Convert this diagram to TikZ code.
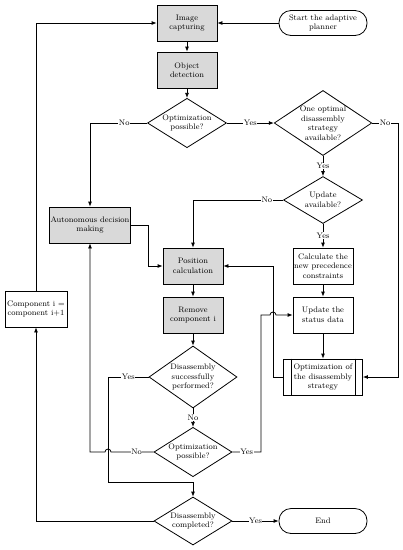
\documentclass[tikz,border=0pt]{standalone}
\usetikzlibrary{arrows.meta,shapes.geometric}

\tikzset{
  proc/.style={draw, fill=gray!30, minimum width=60pt, minimum height=36pt, align=center, inner sep=1pt},
  box/.style={draw, fill=white, minimum width=60pt, minimum height=36pt, align=center, inner sep=1pt},
  cond/.style={draw, diamond, fill=white, aspect=1.5, inner sep=0pt, align=center},
  term/.style={draw, rounded corners=12pt, minimum width=88pt, minimum height=25pt, align=center},
  yn/.style={fill=white, inner sep=.5pt},
}

\begin{document}
\begin{tikzpicture}[x=1pt, y=-1pt, line width=.8pt, font=\fontsize{8}{9.5}\selectfont, >={Latex[length=5pt,width=4pt]}]

\useasboundingbox (0,0) rectangle (403,550);

\node [proc] (img) at (187,23) {Image\\capturing};
\node [term] (start) at (323,23) {Start the adaptive\\planner};
\node [proc] (obj) at (187,70) {Object\\detection};
\node [cond, minimum width=79pt, minimum height=47pt] (opt1) at (187,123) {Optimization\\possible?};
\node [cond, minimum width=87pt, minimum height=63pt] (strat) at (323,123) {One optimal\\disassembly\\strategy\\available?};
\node [cond, minimum width=79pt, minimum height=47pt] (upd) at (323,200) {Update\\available?};
\node [proc, minimum width=79pt] (auto) at (90,225) {Autonomous decision\\making};
\node [proc] (pos) at (193,266) {Position\\calculation};
\node [box] (calc) at (323,266) {Calculate the\\new precedence\\constraints};
\node [proc] (rem) at (193,315) {Remove\\component i};
\node [box] (status) at (323,315) {Update the\\status data};
\node [cond, minimum width=88pt, minimum height=62pt] (succ) at (193,377) {Disassembly\\successfully\\performed?};
\node [box, minimum width=79pt] (optbox) at (323,377) {Optimization of\\the disassembly\\strategy};
\node [box, minimum width=62pt] (comp) at (36,309) {Component i =\\component i+1};
\node [cond, minimum width=78pt, minimum height=47pt] (opt3) at (193,452) {Optimization\\possible?};
\node [cond, minimum width=78pt, minimum height=48pt] (done) at (193,521) {Disassembly\\completed?};
\node [term] (fin) at (323,521) {End};

\draw ([xshift=8pt]optbox.north west) -- ([xshift=8pt]optbox.south west);
\draw ([xshift=-8pt]optbox.north east) -- ([xshift=-8pt]optbox.south east);

\coordinate (r1) at (398,123);
\coordinate (l1) at (273,377);
\coordinate (l2) at (148,225);
\coordinate (a1) at (108,377);
\coordinate (a2) at (108,482);
\coordinate (h1) at (111,452);
\coordinate (a3) at (90,452);
\coordinate (b1) at (261,452);
\coordinate (b2) at (261,315);
\coordinate (h2) at (270,315);

\draw [->] (start.west) -- (img.east);
\draw [->] (img) -- (obj);
\draw [->] (obj) -- (opt1);
\draw [->] (opt1) -- node [yn] {Yes} (strat);
\draw [->] (opt1.west) -| node [yn, pos=.2] {No} (auto.north);
\draw [->] (strat.east) -- node [yn] {No} (r1) |- (optbox.east);
\draw [->] (strat) -- node [yn] {Yes} (upd);
\draw [->] (upd.west) -| node [yn, pos=.09] {No} (pos.north);
\draw [->] (upd) -- node [yn] {Yes} (calc);
\draw [->] (calc) -- (status);
\draw [->] (status) -- (optbox);
\draw [->] (optbox.west) -- (l1) |- (pos.east);
\draw [->] (auto.east) -- (l2) |- (pos.west);
\draw [->] (pos) -- (rem);
\draw [->] (rem) -- (succ);
\draw [->] (succ) -- node [yn] {No} (opt3);
\draw [->] (succ.west) -- node [yn] {Yes} (a1) -- (a2) -| (done.north);
\draw [->] (opt3.west) -- node [yn, pos=.4] {No} (h1) arc (0:-180:3) -- (a3) -- (auto.south);
\draw [->] (opt3.east) -- node [yn] {Yes} (b1) -- (b2) -- (h2) arc (180:360:3) -- (status.west);
\draw [->] (done) -- node [yn] {Yes} (fin);
\draw [->] (done.west) -| (comp.south);
\draw [->] (comp.north) |- (img.west);
\end{tikzpicture}
\end{document}
